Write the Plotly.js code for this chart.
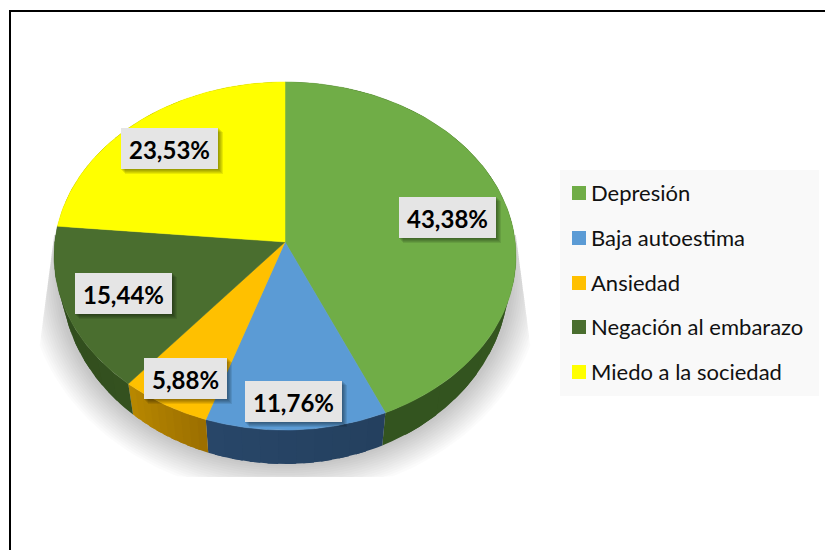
<!DOCTYPE html>
<html>
<head>
<meta charset="utf-8">
<script src="https://cdn.plot.ly/plotly-3.0.1.min.js"></script>
<style>html,body{margin:0;padding:0;background:#fff}</style>
</head>
<body>
<div id="chart" style="width:825px;height:550px"></div>
<script>
const categories = ["Depresión", "Baja autoestima", "Ansiedad", "Negación al embarazo", "Miedo a la sociedad"];
const values = [43.38, 11.76, 5.88, 15.44, 23.53];
const valueLabels = ["43,38%", "11,76%", "5,88%", "15,44%", "23,53%"];
const colors = ["#70ad47", "#5b9bd5", "#ffc000", "#4a6e2f", "#ffff00"];
const sideStart = ["#35561f", "#24405f", "#9a6e00", "#34511f", "#8a8a00"];
const sideEnd = ["#33541f", "#284668", "#b88800", "#2e4a1c", "#8a8a00"];

// label box centres and legend rows, in page pixels
const labelX = [447.5, 293.5, 185.5, 123.5, 169.5];
const labelY = [217.5, 401.5, 378.5, 293.5, 148.5];
const legendRowY = [193, 238, 283, 327, 372];

const total = values.reduce((a, b) => a + b, 0);
const persp = -0.0805;
function topRim(t) {
  const u = Math.sin(t), v = -Math.cos(t), w = 1 + persp * v;
  return [285 + 230.2 * u / w, 242 + 172.9 * v / w];
}
function bottomRim(t) {
  const u = Math.sin(t), v = -Math.cos(t), w = 1 + persp * v;
  return [285 + 223.2 * u / w, 263 + 184.8 * v / w];
}
function mix(a, b, f) {
  const p = s => [1, 3, 5].map(i => parseInt(s.substr(i, 2), 16));
  const A = p(a), B = p(b);
  return "rgb(" + A.map((c, i) => Math.round(c + (B[i] - c) * f)).join(",") + ")";
}
const traces = [];
// soft ground shadow: clipped below the pie, fanning out towards the floor
for (let k = 14; k >= 1; k--) {
  const xs = [], ys = [];
  for (let i = 0; i <= 160; i++) {
    const a = i / 160 * 2 * Math.PI;
    const y = Math.max(235, Math.min(477, 278 + (186 + 2.3 * k) * Math.sin(a)));
    const f = Math.min(1, (y - 235) / 115);
    const x = 285 + (226 + 2.3 * k) * Math.cos(a);
    xs.push(Math.min(516 + 15 * f, Math.max(54 - 15 * f, x)));
    ys.push(y);
  }
  traces.push({x: xs, y: ys, mode: "lines", fill: "toself", fillcolor: "rgba(0,0,0,0.016)",
    line: {width: 0}, hoverinfo: "skip", showlegend: false});
}
// sides and top faces
let running = 0;
const arcs = values.map(v => { const s = running / total; running += v; return [s * 2 * Math.PI, running / total * 2 * Math.PI]; });
arcs.forEach((arc, idx) => {
  const strips = 10;
  for (let s = 0; s < strips; s++) {
    const a = arc[0] + (arc[1] - arc[0]) * s / strips;
    const b = arc[0] + (arc[1] - arc[0]) * Math.min(strips, s + 1.6) / strips;
    const up = [], low = [];
    for (let j = 0; j <= 6; j++) {
      const t = a + (b - a) * j / 6;
      up.push(topRim(t)); low.unshift(bottomRim(t));
    }
    const pts = up.concat(low);
    const col = mix(sideStart[idx], sideEnd[idx], (s + 0.5) / strips);
    traces.push({x: pts.map(p => p[0]), y: pts.map(p => p[1]), mode: "lines", fill: "toself",
      fillcolor: col, line: {width: 0}, hoverinfo: "skip", showlegend: false});
  }
});
arcs.forEach((arc, idx) => {
  const pts = [[285, 242]];
  for (let j = 0; j <= 80; j++) pts.push(topRim(arc[0] + (arc[1] - arc[0]) * j / 80));
  pts.push([285, 242]);
  traces.push({x: pts.map(p => p[0]), y: pts.map(p => p[1]), mode: "lines", fill: "toself",
    fillcolor: colors[idx], line: {width: 0.5, color: colors[idx]}, name: categories[idx],
    text: valueLabels[idx], hoverinfo: "name+text", showlegend: false});
});
// legend swatches
traces.push({x: categories.map(() => 579), y: legendRowY, mode: "markers",
  marker: {symbol: "square", size: 14, color: colors, line: {width: 0}},
  text: categories, hoverinfo: "text", showlegend: false});

const shapes = [
  {type: "rect", xref: "x", yref: "y", x0: 560, x1: 819, y0: 170, y1: 396, fillcolor: "#f9f9f9", line: {width: 0}, layer: "below"},
  {type: "line", xref: "x", yref: "y", x0: 10, x1: 825, y0: 11, y1: 11, line: {color: "#000", width: 2}},
  {type: "line", xref: "x", yref: "y", x0: 10, x1: 10, y0: 10, y1: 550, line: {color: "#000", width: 2}}
];
const annotations = [];
labelX.forEach((cx, i) => {
  const cy = labelY[i];
  const hw = (i === 2 ? 83 : 97) / 2, hh = 20.5;
  for (let o = 5; o >= 1; o--) {
    shapes.push({type: "rect", xref: "x", yref: "y", x0: cx - hw + o - 1, x1: cx + hw + o,
      y0: cy - hh + o - 1, y1: cy + hh + o, fillcolor: "rgba(0,0,0,0.09)", line: {width: 0}});
  }
  shapes.push({type: "rect", xref: "x", yref: "y", x0: cx - hw, x1: cx + hw, y0: cy - hh, y1: cy + hh,
    fillcolor: "#e5e5e5", line: {width: 0}});
  annotations.push({x: cx, y: cy + 1, xref: "x", yref: "y", text: "<b>" + valueLabels[i] + "</b>",
    showarrow: false, xanchor: "center", yanchor: "middle",
    font: {family: "Lato, sans-serif", size: 24, color: "#000"}});
});
categories.forEach((c, i) => {
  annotations.push({x: 590, y: legendRowY[i] - 1, xref: "x", yref: "y", text: c, showarrow: false,
    xanchor: "left", yanchor: "middle", borderpad: 0,
    font: {family: "Lato, sans-serif", size: 22, color: "#111"}});
});
Plotly.newPlot("chart", traces, {
  width: 825, height: 550, margin: {l: 0, r: 0, t: 0, b: 0},
  paper_bgcolor: "#fff", plot_bgcolor: "rgba(0,0,0,0)", showlegend: false,
  xaxis: {range: [0, 825], visible: false, fixedrange: true},
  yaxis: {range: [550, 0], visible: false, fixedrange: true},
  shapes: shapes, annotations: annotations
}, {displayModeBar: false, staticPlot: true});
</script>
</body>
</html>
